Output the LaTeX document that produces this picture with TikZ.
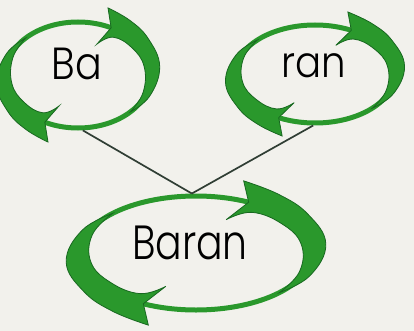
\documentclass[tikz,border=0pt]{standalone}
\usepackage{fontspec}
\setmainfont{Poppins}[UprightFont=* Light]
\usetikzlibrary{shapes.geometric}
\definecolor{bgc}{RGB}{242,241,236}
\definecolor{gr}{RGB}{42,152,44}
\definecolor{grd}{RGB}{24,104,32}
\definecolor{lnc}{RGB}{48,62,52}
\tikzset{
  ring/.style={ellipse, draw=gr, line width=5pt, inner sep=0pt},
  headshape/.style={fill=gr, draw=grd, line width=0.8pt, line join=miter},
  conn/.style={draw=lnc, line width=1.7pt},
  lbl/.style={inner sep=0pt, text=black, transform shape},
}
\newcommand\onehead{%
  \filldraw[headshape] (72:1.33) -- (63:1) -- (66:0.64)
    -- plot[smooth,tension=0.7] coordinates {(66:0.64) (56:0.86) (35:0.9) (10:0.92) (-20:0.95) (-44:1)}
    -- plot[smooth,tension=0.7] coordinates {(-44:1) (-22:1.06) (8:1.13) (35:1.18) (55:1.25) (72:1.33)}
    -- cycle;}
\newcommand\ringheads[4]{%
  \begin{scope}[shift={(#1,#2)},xscale=#3,yscale=-#4]
    \onehead
    \begin{scope}[rotate=180]\onehead\end{scope}
  \end{scope}}
\begin{document}
\begin{tikzpicture}[x=1pt,y=-1pt]
  \useasboundingbox (0,0) rectangle (414,331);
  \fill[bgc] (0,0) rectangle (414,331);
  % rings
  \node[ring, minimum width=146pt, minimum height=106pt] (ba) at (78,75) {};
  \node[ring, minimum width=160pt, minimum height=98pt] (ran) at (315,74) {};
  \node[ring, minimum width=232pt, minimum height=114pt] (baran) at (196,253) {};
  % connectors
  \draw[conn] (ba.-85) -- (baran.94);
  \draw[conn] (ran.-92) -- (baran.94);
  % arrow heads
  \ringheads{78}{75}{73}{53}
  \ringheads{315}{74}{80}{49}
  \ringheads{196}{253}{116}{57}
  % labels
  \node[lbl, xscale=0.88, font=\fontsize{45}{45}\selectfont] (tba) at (77,64) {Ba};
  \node[lbl, xscale=0.9, font=\fontsize{43}{43}\selectfont] (tran) at (314,66) {ran};
  \node[lbl, xscale=0.82, font=\fontsize{48}{48}\selectfont] (tbaran) at (190,243) {Baran};
\end{tikzpicture}
\end{document}
